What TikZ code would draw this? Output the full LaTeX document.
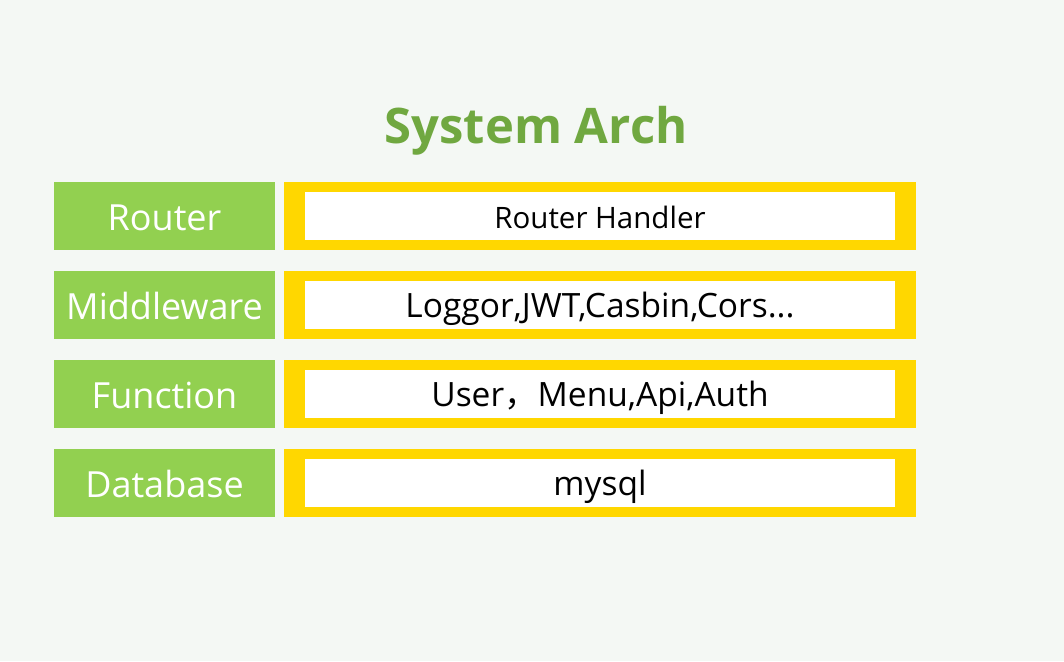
\documentclass[tikz,border=0pt]{standalone}
\usepackage{fontspec}
\setmainfont{Open Sans}
\newfontfamily\cjk{Noto Sans CJK SC}
\definecolor{bgcol}{HTML}{F4F8F4}
\definecolor{layergreen}{HTML}{92D050}
\definecolor{titlegreen}{HTML}{70A840}
\definecolor{frameyellow}{HTML}{FFD700}

\begin{document}
\begin{tikzpicture}[x=1pt,y=-1pt,
  layer/.style={fill=layergreen,minimum width=221pt,minimum height=68pt,inner sep=0pt},
  frame/.style={fill=frameyellow,minimum width=632pt,minimum height=68pt,inner sep=0pt},
  content/.style={fill=white,minimum width=590pt,minimum height=48pt,inner sep=0pt},
  label/.style={anchor=base,inner sep=0pt},
  title/.style={anchor=base,text=titlegreen,font=\bfseries\fontsize{49}{49}\selectfont}]
\useasboundingbox (0,0) rectangle (1064,661);
\fill[bgcol] (0,0) rectangle (1064,661);
\node[title] (title) at (536,143) {System Arch};
% one row per layer, 89px apart
\foreach \i/\name/\desc/\fs in {0/Router/{Router Handler}/29.5,
    1/Middleware/{Loggor,JWT,Casbin,Cors...}/33.5,
    2/Function/{User{\cjk，}Menu,Api,Auth}/33.5,
    3/Database/{mysql}/33.5}{
  \node[layer] (layer\i) at (164.5,216+89*\i) {};
  \node[frame] (frame\i) at (600,216+89*\i) {};
  \node[content] (box\i) at (frame\i) {};
  \node[label,text=white,font=\fontsize{36}{36}\selectfont] (name\i)
    at ([yshift=-14pt]layer\i.center) {\name};
  \node[label,font=\fontsize{\fs}{\fs}\selectfont] (desc\i)
    at ([yshift=-12pt]box\i.center) {\desc};
}
\end{tikzpicture}
\end{document}
